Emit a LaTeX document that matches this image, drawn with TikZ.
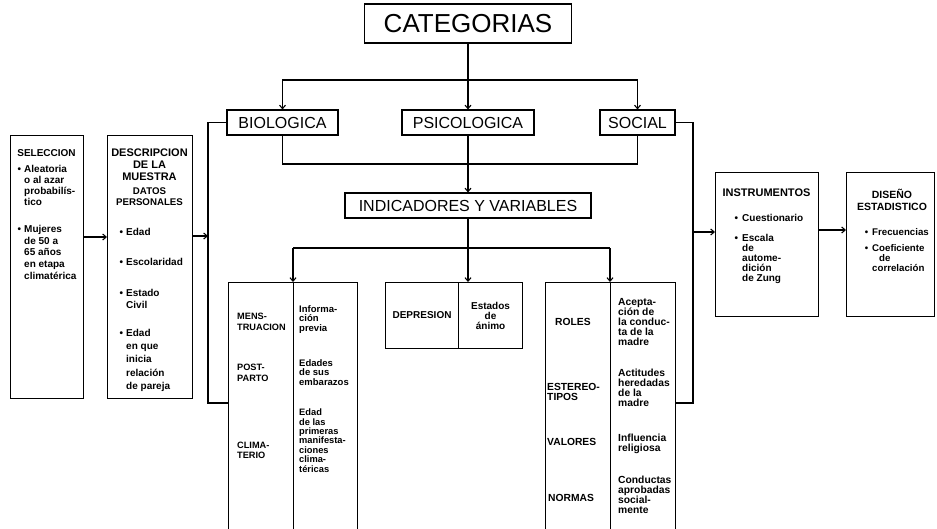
\documentclass[tikz,border=0pt]{standalone}
\usepackage{fontspec}
\setmainfont{Liberation Sans}
\usetikzlibrary{arrows.meta,calc}
\begin{document}
\begin{tikzpicture}[x=1pt,y=-1pt,
  box/.style={draw, line width=1.1pt, inner sep=0pt, anchor=north west},
  tx/.style 2 args={font=\fontsize{#1}{#2}\selectfont\bfseries, inner sep=0pt, align=left, anchor=north west},
  txc/.style 2 args={font=\fontsize{#1}{#2}\selectfont\bfseries, inner sep=0pt, align=center, anchor=north},
  big/.style={font=\fontsize{16}{18}\selectfont, anchor=center},
  ln/.style={line width=1.1pt},
  arr/.style={line width=1.1pt, -{Straight Barb[length=3.5pt,width=6pt]}},
  bul/.style={}
]
\useasboundingbox (0,0) rectangle (937,528);
\clip (0,0) rectangle (937,528);
\fill[white] (0,0) rectangle (937,528);

% ---- top category boxes
\node[box, minimum width=207pt, minimum height=39pt, anchor=center, font=\fontsize{26}{28}\selectfont] (cat) at (468,23.5) {CATEGORIAS};
\node[box, big, minimum width=111pt, minimum height=25pt] (biol) at (282.5,122.5) {BIOLOGICA};
\node[box, big, minimum width=132pt, minimum height=25pt] (psi) at (468,122.5) {PSICOLOGICA};
\node[box, big, minimum width=75pt, minimum height=25pt] (soc) at (637.5,122.5) {SOCIAL};
\node[box, big, minimum width=246pt, minimum height=25pt] (ind) at (468,205.5) {INDICADORES Y VARIABLES};

% ---- left boxes
\node[box, minimum width=73pt, minimum height=263pt] (sel) at (10,135) {};
\node[box, minimum width=85pt, minimum height=263pt] (desc) at (107,135) {};
\node[txc={10}{11}] (selT) at (46.5,149) {SELECCION};
\node[tx={10}{11}] (selA) at (24,165) {\llap{\textbullet\hspace{3pt}}Aleatoria\\o al azar\\probabilís-\\tico};
\node[tx={10}{11.7}] (selB) at (24,225) {\llap{\textbullet\hspace{3pt}}Mujeres\\de 50 a\\65 años\\en etapa\\climatérica};
\node[txc={11}{12}] (descT) at (149.5,149) {DESCRIPCION\\DE LA\\MUESTRA};
\node[txc={9.7}{10.5}] (descD) at (149.5,188) {DATOS\\PERSONALES};
\node[tx={10}{12}] (d1) at (126,228) {\llap{\textbullet\hspace{3pt}}Edad};
\node[tx={10}{12}] (d2) at (126,258) {\llap{\textbullet\hspace{3pt}}Escolaridad};
\node[tx={10}{12}] (d3) at (126,289) {\llap{\textbullet\hspace{3pt}}Estado\\Civil};
\node[tx={10}{13.2}] (d4) at (126,329) {\llap{\textbullet\hspace{3pt}}Edad\\en que\\inicia\\relación\\de pareja};

% ---- right boxes
\node[box, minimum width=103pt, minimum height=144pt] (inst) at (715,172) {};
\node[box, minimum width=88pt, minimum height=144pt] (dis) at (846,172) {};
\node[txc={11}{12}] (instT) at (766.5,189) {INSTRUMENTOS};
\node[tx={10}{11}] (i1) at (742,214) {\llap{\textbullet\hspace{4pt}}Cuestionario};
\node[tx={10}{10}] (i2) at (742,234) {\llap{\textbullet\hspace{4pt}}Escala\\de\\autome-\\dición\\de Zung};
\node[txc={10.5}{12}] (disT) at (892,189) {DISEÑO\\ESTADISTICO};
\node[tx={9.7}{11}] (s1) at (872,228) {\llap{\textbullet\hspace{4pt}}Frecuencias};
\node[tx={9.7}{10}] (s2) at (872,244) {\llap{\textbullet\hspace{4pt}}Coeficiente\\\hspace*{7pt}de\\correlación};

% ---- bottom boxes
\node[box, minimum width=65pt, minimum height=260pt] (bioL) at (228,282) {};
\node[box, minimum width=64pt, minimum height=260pt] (bioR) at (293,282) {};
\node[box, minimum width=73pt, minimum height=66pt, font=\fontsize{10}{11}\selectfont\bfseries] (depL) at (385,282) {DEPRESION};
\node[box, minimum width=64pt, minimum height=66pt, align=center, font=\fontsize{10}{10}\selectfont\bfseries] (depR) at (458,282) {Estados\\de\\ánimo};
\node[box, minimum width=65pt, minimum height=260pt] (socL) at (545,282) {};
\node[box, minimum width=65pt, minimum height=260pt] (socR) at (610,282) {};

\node[tx={9.2}{11}] (m1) at (237,313) {MENS-\\TRUACION};
\node[tx={9.2}{10.5}] (m2) at (237,364) {POST-\\PARTO};
\node[tx={9.2}{9.5}] (m3) at (237,442) {CLIMA-\\TERIO};
\node[tx={9.5}{9.5}] (r1) at (299,305) {Informa-\\ción\\previa};
\node[tx={9.5}{9.5}] (r2) at (299,359) {Edades\\de sus\\embarazos};
\node[tx={9.3}{9.35}] (r3) at (299,409) {Edad\\de las\\primeras\\manifesta-\\ciones\\clima-\\téricas};

\node[tx={10.3}{10}] (n1) at (555,318) {ROLES};
\node[tx={10.3}{10}] (n2) at (547,383) {ESTEREO-\\TIPOS};
\node[tx={10.3}{10}] (n3) at (547,438) {VALORES};
\node[tx={10.3}{10}] (n4) at (548,494) {NORMAS};
\node[tx={10.3}{10}] (q1) at (618,298) {Acepta-\\ción de\\la conduc-\\ta de la\\madre};
\node[tx={10.3}{10}] (q2) at (618,369) {Actitudes\\heredadas\\de la\\madre};
\node[tx={10.3}{9.5}] (q3) at (618,434) {Influencia\\religiosa};
\node[tx={10.3}{9.4}] (q4) at (618,476) {Conductas\\aprobadas\\social-\\mente};

% ---- connectors
\coordinate (t1) at (468,80);
\draw[ln] (cat.south) -- (t1);
\draw[arr] (t1) -| (biol.north);
\draw[arr] (t1) -| (soc.north);
\draw[arr] (t1) -- (psi.north);
\coordinate (t2) at (468,164);
\draw[ln] (biol.south) |- (t2) -| (soc.south);
\draw[arr] (psi.south) -- (ind.north);
\coordinate (hL) at (293,248);
\coordinate (hR) at (610,248);
\draw[ln] (ind.south) -- (ind.south |- hL);
\draw[ln] (hL) -- (hR);
\draw[arr] (hL) -- (bioR.north west);
\draw[arr] (hR) -- (socR.north west);
\draw[arr] (ind.south) -- (ind.south |- depR.north);

\coordinate (lb) at (208,403);
\draw[ln] (biol.west) -| (lb) -- (lb -| bioL.west);
\coordinate (la) at (208,236);
\draw[arr] (la -| desc.east) -- (la);
\coordinate (sa) at (95,237);
\draw[arr] (sa -| sel.east) -- (sa -| desc.west);

\coordinate (rb) at (693,403);
\draw[ln] (soc.east) -| (rb) -- (rb -| socR.east);
\coordinate (ra) at (693,232);
\draw[arr] (ra) -- (ra -| inst.west);
\coordinate (ia) at (830,230);
\draw[arr] (ia -| inst.east) -- (ia -| dis.west);
\end{tikzpicture}
\end{document}
